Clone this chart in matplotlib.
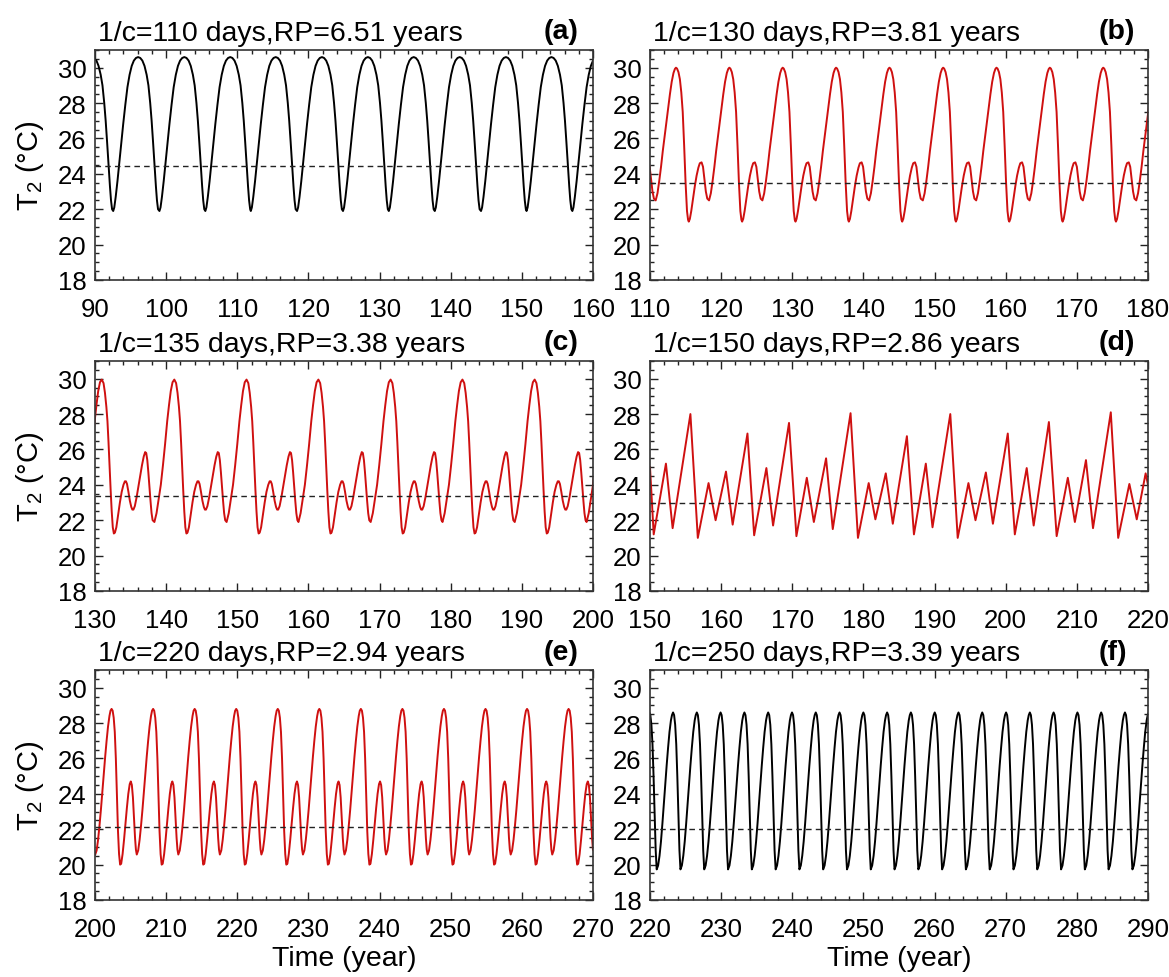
import numpy as np
import matplotlib
matplotlib.use("Agg")
import matplotlib.pyplot as plt
from matplotlib.ticker import MultipleLocator

plt.rcParams["font.family"] = ["Liberation Sans", "DejaVu Sans"]
plt.rcParams["mathtext.fontset"] = "custom"
plt.rcParams["mathtext.rm"] = "Liberation Sans"

RED = "#cf1010"

# (a) 1/c=110 days: trough times and one cycle
a_starts = [86.1, 92.56, 99.06, 105.51, 111.9, 118.4, 124.86, 131.3, 137.76, 144.26, 150.66, 157.1]
a_dt = [0, 0.15, 0.35, 0.6, 0.85, 1.1, 1.4, 1.7, 2.0, 2.3, 2.6, 2.9, 3.2, 3.5, 3.8, 4.1, 4.4,
        4.7, 4.95, 5.2, 5.4, 5.6, 5.8, 6.0, 6.15, 6.3]
a_val = [21.9, 22.1, 22.7, 23.6, 24.6, 25.6, 26.8, 27.9, 28.9, 29.6, 30.1, 30.4, 30.55, 30.6, 30.55, 30.4, 30.1,
         29.6, 29.0, 28.0, 27.0, 25.8, 24.5, 23.3, 22.5, 22.0]
a_mean = 24.45

# (b) 1/c=130 days
b_starts = [103.3, 110.8, 118.3, 125.8, 133.3, 140.8, 148.35, 155.85, 163.35, 170.85, 178.35]
b_dt = [0, 0.25, 0.5, 0.75, 1.0, 1.25, 1.5, 1.75, 2.0, 2.25, 2.5, 2.7, 2.85, 3.0, 3.2, 3.4, 3.6, 3.8,
        4.0, 4.2, 4.4, 4.55, 4.65, 4.8, 5.0, 5.25, 5.5, 5.75, 6.0, 6.2, 6.45, 6.65, 6.85, 7.05, 7.25]
b_val = [22.5, 22.9, 23.6, 24.4, 25.3, 26.1, 26.9, 27.7, 28.5, 29.2, 29.7, 29.93, 30.0, 29.95, 29.75, 29.35, 28.6, 27.5,
         25.6, 23.5, 21.9, 21.4, 21.3, 21.45, 21.9, 22.6, 23.3, 23.9, 24.35, 24.6, 24.65, 24.4, 23.7, 23.0, 22.6]
b_mean = 23.5

# (c) 1/c=135 days
c_starts = [128.15, 138.35, 148.5, 158.6, 168.75, 178.85, 189.0, 199.1]
c_dt = [0, 0.3, 0.6, 0.9, 1.2, 1.5, 1.8, 2.05, 2.3, 2.55, 2.8, 3.05, 3.25, 3.45, 3.6, 3.75, 3.9, 4.05,
        4.2, 4.35, 4.5, 4.65, 4.85, 5.1, 5.35, 5.6, 5.85, 6.05, 6.2, 6.35, 6.55, 6.75, 6.95, 7.1, 7.25,
        7.45, 7.7, 7.95, 8.2, 8.45, 8.7, 8.9, 9.05, 9.2, 9.35, 9.5, 9.65, 9.8, 9.95]
c_val = [21.9, 22.4, 23.2, 24.0, 25.1, 26.3, 27.6, 28.5, 29.3, 29.8, 29.95, 29.75, 29.2, 28.4, 27.6, 26.4, 25.0,
         23.7, 22.5, 21.6, 21.25, 21.3, 21.6, 22.3, 23.0, 23.6, 24.0, 24.2, 24.2, 24.05, 23.6, 23.1, 22.75,
         22.6, 22.6, 22.8, 23.3, 23.9, 24.5, 25.1, 25.6, 25.85, 25.8, 25.4, 24.7, 23.9, 23.1, 22.4, 22.0]
c_mean = 23.35

# (d) 1/c=150 days: turning points
d_time = [150.0, 150.52, 152.24, 153.18, 155.68, 156.72, 158.23, 159.22, 160.68, 161.62, 163.7, 164.64,
          166.36, 167.3, 169.54, 170.58, 172.04, 173.03, 174.75, 175.69, 178.19, 179.23, 180.74, 181.68,
          183.14, 184.13, 186.11, 187.1, 188.77, 189.71, 192.21, 193.25, 194.76, 195.75, 197.21, 198.2,
          200.29, 201.28, 202.95, 203.93, 206.07, 207.16, 208.73, 209.72, 211.28, 212.27, 214.77, 215.81,
          217.38, 218.42, 219.67, 220.0]
d_val = [25.0, 21.2, 25.2, 21.55, 28.0, 21.0, 24.1, 22.0, 24.75, 21.75, 26.9, 21.15,
         24.95, 21.7, 27.5, 21.1, 24.4, 21.9, 25.5, 21.5, 28.05, 21.0, 24.1, 22.05,
         24.65, 21.8, 26.75, 21.2, 25.2, 21.6, 28.0, 21.0, 24.1, 22.0, 24.7, 21.8,
         26.9, 21.2, 24.95, 21.7, 27.55, 21.1, 24.4, 21.9, 25.4, 21.55, 28.1, 21.0,
         24.05, 22.05, 24.65, 24.0]
d_mean = 23.0

# (e) 1/c=220 days
e_starts = [200.03, 205.87, 211.71, 217.55, 223.39, 229.23, 235.07, 240.91, 246.75, 252.59, 258.43, 264.27]
e_dt = [0, 0.2, 0.4, 0.6, 0.8, 1.0, 1.2, 1.4, 1.6, 1.8, 2.0, 2.15, 2.3, 2.45, 2.6, 2.75, 2.9, 3.05,
        3.2, 3.35, 3.5, 3.65, 3.85, 4.05, 4.25, 4.45, 4.65, 4.85, 5.0, 5.15, 5.3, 5.45, 5.6, 5.72]
e_val = [20.57, 20.8, 21.4, 22.2, 23.1, 24.1, 25.1, 26.1, 27.0, 27.8, 28.4, 28.7, 28.8, 28.7, 28.3, 27.5, 26.0,
         23.9, 21.9, 20.6, 20.0, 20.05, 20.6, 21.4, 22.3, 23.2, 24.0, 24.55, 24.7, 24.5, 23.8, 22.7, 21.5, 20.85]
e_mean = 22.1

# (f) 1/c=250 days
f_starts = [217.6, 220.94, 224.28, 227.62, 230.97, 234.31, 237.66, 241.0, 244.34, 247.69, 251.03, 254.37,
            257.72, 261.06, 264.4, 267.75, 271.09, 274.43, 277.78, 281.12, 284.46, 287.81]
f_dt = [0, 0.2, 0.4, 0.6, 0.8, 1.0, 1.2, 1.4, 1.6, 1.8, 2.0, 2.15, 2.3, 2.45, 2.6, 2.75, 2.9, 3.05, 3.2]
f_val = [19.73, 19.95, 20.5, 21.3, 22.3, 23.4, 24.5, 25.6, 26.6, 27.5, 28.15, 28.45, 28.6, 28.45, 27.9, 26.8,
         25.0, 22.9, 20.8]
f_mean = 22.0

titles = ["1/c=110 days,RP=6.51 years", "1/c=130 days,RP=3.81 years",
          "1/c=135 days,RP=3.38 years", "1/c=150 days,RP=2.86 years",
          "1/c=220 days,RP=2.94 years", "1/c=250 days,RP=3.39 years"]
tags = ["(a)", "(b)", "(c)", "(d)", "(e)", "(f)"]
xlims = [(90, 160), (110, 180), (130, 200), (150, 220), (200, 270), (220, 290)]


def build(starts, dt, val):
    t = np.concatenate([s + np.asarray(dt) for s in starts])
    v = np.tile(val, len(starts))
    return t, v


series = [
    (build(a_starts, a_dt, a_val), a_mean, "black"),
    (build(b_starts, b_dt, b_val), b_mean, RED),
    (build(c_starts, c_dt, c_val), c_mean, RED),
    ((np.array(d_time), np.array(d_val)), d_mean, RED),
    (build(e_starts, e_dt, e_val), e_mean, RED),
    (build(f_starts, f_dt, f_val), f_mean, "black"),
]

W, H = 1169, 978
fig = plt.figure(figsize=(W / 100, H / 100), dpi=100)
col_x = [95, 650]
row_top = [51, 362, 671]
aw, ah = 498, 230

for i, ((t, v), mean, col) in enumerate(series):
    r, c = divmod(i, 2)
    ax = fig.add_axes([col_x[c] / W, 1 - (row_top[r] + ah) / H, aw / W, ah / H])
    ax.plot(t, v, color=col, lw=1.4)
    ax.axhline(mean, color="#222222", lw=1.0, dashes=(4, 3))
    ax.set_xlim(*xlims[i])
    ax.set_ylim(18, 31)
    ax.xaxis.set_major_locator(MultipleLocator(10))
    ax.xaxis.set_minor_locator(MultipleLocator(2))
    ax.yaxis.set_major_locator(MultipleLocator(2))
    ax.yaxis.set_minor_locator(MultipleLocator(0.5))
    ax.tick_params(which="both", direction="in", top=True, right=True, width=1.0, colors="#222222")
    ax.tick_params(which="major", length=6, labelsize=18.5, labelcolor="black")
    ax.tick_params(which="minor", length=3)
    ax.tick_params(axis="x", pad=12)
    ax.tick_params(axis="y", pad=6)
    for s in ax.spines.values():
        s.set_linewidth(1.2)
        s.set_color("#333333")
    ax.text(0.006, 1.045, titles[i], transform=ax.transAxes, fontsize=20.5, va="baseline", ha="left")
    ax.text(0.90, 1.05, tags[i], transform=ax.transAxes, fontsize=20.5, fontweight="bold", va="baseline", ha="left")
    if c == 0:
        ax.set_ylabel(r"T$_\mathregular{2}$ (°C)", fontsize=21)
        ax.yaxis.set_label_coords(-0.098, 0.5)
    if r == 2:
        ax.set_xlabel("Time (year)", fontsize=20.5)
        ax.xaxis.set_label_coords(0.5, -0.196)

fig.savefig("out.png", dpi=100)
